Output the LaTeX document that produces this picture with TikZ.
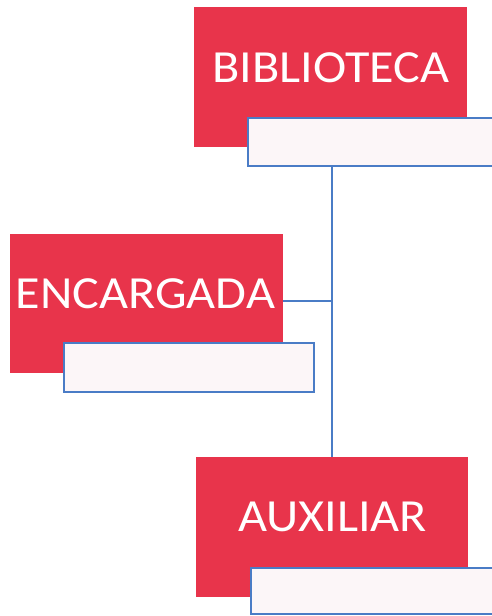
\documentclass[tikz,border=0pt]{standalone}
\usepackage{fontspec}
\setmainfont{Carlito}
\definecolor{boxred}{HTML}{E8344B}
\definecolor{boxblue}{HTML}{4A7CC6}
\definecolor{boxwhite}{HTML}{FCF6F8}
\newcommand{\widetext}[1]{\scalebox{1.09}[1]{#1}}
\begin{document}
\begin{tikzpicture}[x=1pt,y=-1pt,
  redbox/.style={fill=boxred,draw=none,inner sep=0pt,anchor=north west},
  whitebox/.style={fill=boxwhite,draw=boxblue,line width=1.6pt,inner sep=0pt,anchor=north west},
  lbl/.style={text=white,font=\fontsize{46}{46}\selectfont,inner sep=0pt,anchor=base},
  conn/.style={draw=boxblue,line width=1.6pt}]
\useasboundingbox (0,0) rectangle (492,616);
\fill[white] (0,0) rectangle (492,616);
% BIBLIOTECA
\node[redbox,minimum width=273pt,minimum height=140pt] (bibr) at (194,7) {};
\node[whitebox,minimum width=246pt,minimum height=48pt] (bibw) at (247,117) {};
\node[lbl] (bibt) at (331,82) {\widetext{BIBLIOTECA}};
% ENCARGADA
\node[redbox,minimum width=273pt,minimum height=139pt] (encr) at (10,234) {};
\node[whitebox,minimum width=250pt,minimum height=49pt] (encw) at (63,342) {};
\node[lbl] (enct) at (145.5,308) {\widetext{ENCARGADA}};
% AUXILIAR
\node[redbox,minimum width=272pt,minimum height=140pt] (auxr) at (196,457) {};
\node[whitebox,minimum width=243pt,minimum height=46pt] (auxw) at (250,567) {};
\node[lbl] (auxt) at (332.5,531) {\widetext{AUXILIAR}};
% connectors
\coordinate (trunk) at (332,301);
\draw[conn] (bibw.south -| trunk) -- (auxr.north -| trunk);
\draw[conn] (encr.east |- trunk) -- (trunk);
\end{tikzpicture}
\end{document}
